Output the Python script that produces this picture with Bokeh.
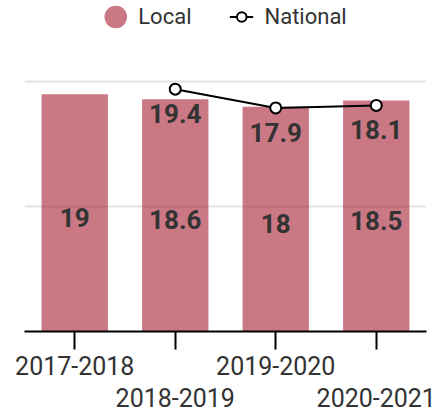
from bokeh.plotting import figure
from bokeh.models import (ColumnDataSource, FixedTicker, Legend, LegendItem,
                          Range1d, CategoricalAxis, CustomJSTickFormatter)
from bokeh.core.properties import value
from bokeh.embed import file_html
from bokeh.resources import INLINE

# School years and the two series
years = ["2017-2018", "2018-2019", "2019-2020", "2020-2021"]
local = [19, 18.6, 18, 18.5]
national_years = ["2018-2019", "2019-2020", "2020-2021"]
national = [19.4, 17.9, 18.1]

BAR_COLOR = "#ad3040"
BAR_ALPHA = 0.65
LEGEND_DOT = "#ca7883"
TEXT = "#333333"
FONT = "Roboto"


def fmt(v):
    return f"{v:g}"


local_src = ColumnDataSource(dict(
    year=years,
    local=local,
    mid=[v / 2 for v in local],
    label=[fmt(v) for v in local],
))
nat_src = ColumnDataSource(dict(
    year=national_years,
    national=national,
    label=[fmt(v) for v in national],
))
# a single point with no position: only used for the legend swatch
swatch_src = ColumnDataSource(dict(year=[years[0]], y=[float("nan")]))

p = figure(
    x_range=years, y_range=Range1d(0, 26.5),
    width=443, height=416, title=None,
    output_backend="svg", toolbar_location=None,
    y_axis_location=None,
    min_border_left=24, min_border_right=17,
    min_border_top=0, min_border_bottom=85,
)
p.outline_line_color = None
p.background_fill_color = "white"

# horizontal guides
p.xgrid.grid_line_color = None
p.ygrid.ticker = FixedTicker(ticks=[10, 20])
p.ygrid.grid_line_color = "#e3e3e3"
p.ygrid.grid_line_width = 2

# bars for the local figure
p.vbar(x="year", top="local", width=0.66, source=local_src,
       fill_color=BAR_COLOR, fill_alpha=BAR_ALPHA, line_color=None)

p.text(x="year", y="mid", text="label", source=local_src,
       text_align="center", text_baseline="middle", y_offset=4.5,
       text_font=value(FONT), text_font_style="bold",
       text_font_size="26px", text_color=TEXT)

# national line with hollow markers
nat_line = p.line(x="year", y="national", source=nat_src,
                  line_color="black", line_width=2)
nat_pts = p.scatter(x="year", y="national", source=nat_src, marker="circle",
                    size=11, fill_color="white", line_color="black", line_width=2)

p.text(x="year", y="national", text="label", source=nat_src,
       text_align="center", text_baseline="middle", y_offset=24.5,
       text_font=value(FONT), text_font_style="bold",
       text_font_size="26px", text_color=TEXT)

# round swatch for the local series
local_dot = p.scatter(x="year", y="y", source=swatch_src, marker="circle", size=10,
                      fill_color=LEGEND_DOT, line_color=LEGEND_DOT, line_width=13)

legend = Legend(
    items=[
        LegendItem(label="Local", renderers=[local_dot]),
        LegendItem(label="National", renderers=[nat_line, nat_pts]),
    ],
    orientation="horizontal", location="top_center",
    glyph_width=24, glyph_height=27, label_standoff=11, spacing=38,
    padding=4, margin=3,
    border_line_color=None, background_fill_alpha=0,
    label_text_font=FONT, label_text_font_size="22px", label_text_color=TEXT,
)
p.add_layout(legend)

ONLY_THESE = "return show.includes(tick) ? tick : '';"

# category axis: first row carries the 1st and 3rd year, with tick marks
ax = p.xaxis[0]
ax.axis_line_color = "black"
ax.axis_line_width = 2
ax.major_tick_line_color = "black"
ax.major_tick_line_width = 2
ax.major_tick_in = 0
ax.major_tick_out = 18
ax.major_label_standoff = 6
ax.major_label_text_font = FONT
ax.major_label_text_font_size = "25px"
ax.major_label_text_color = TEXT
ax.formatter = CustomJSTickFormatter(args=dict(show=years[0::2]), code=ONLY_THESE)

# second row: the 2nd and 4th year
ax2 = CategoricalAxis(
    axis_line_color=None, major_tick_line_color=None,
    major_tick_in=0, major_tick_out=0,
    major_label_standoff=10,
    major_label_text_font=FONT, major_label_text_font_size="25px",
    major_label_text_color=TEXT,
    formatter=CustomJSTickFormatter(args=dict(show=years[1::2]), code=ONLY_THESE),
)
p.add_layout(ax2, "below")

open("out.html", "w").write(file_html(p, INLINE))
